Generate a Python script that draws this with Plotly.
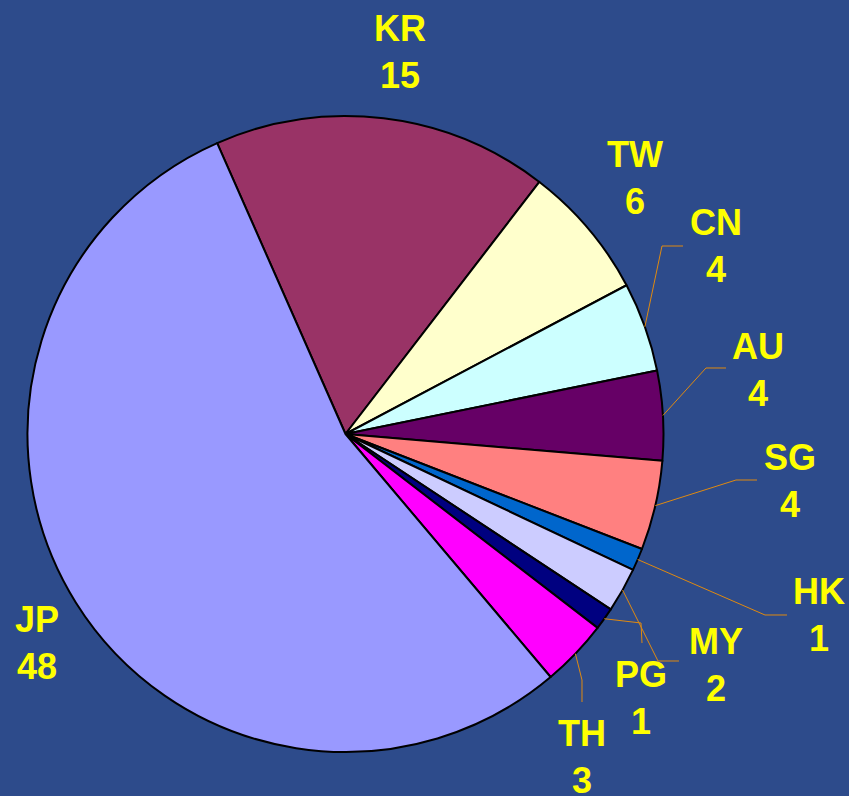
import math
import plotly.graph_objects as go

# ---- data ----
countries = ["KR", "TW", "CN", "AU", "SG", "HK", "MY", "PG", "TH", "JP"]
counts = [15, 6, 4, 4, 4, 1, 2, 1, 3, 48]
slice_colors = ["#993366", "#FFFFCC", "#CCFFFF", "#660066", "#FF8080",
                "#0066CC", "#CCCCFF", "#000080", "#FF00FF", "#9999FF"]

# ---- layout constants (pixels) ----
W, H = 849, 796
CX, CY, R = 345.5, 434.0, 318.0
ROTATION = -23.8
BG = "#2D4B8B"

# label centres (pixel) and leader elbows/ends (pixel) -- label layout only
label_pos = {
    "KR": (400, 52), "TW": (635, 178), "CN": (716, 246), "AU": (758, 370),
    "SG": (790, 481), "HK": (819, 615), "MY": (716, 665), "PG": (641, 698),
    "TH": (582, 757), "JP": (37, 643),
}
leaders = {
    "CN": [(662, 246), (683, 246)],
    "AU": [(706, 368), (726, 368)],
    "SG": [(736, 480), (757, 480)],
    "HK": [(765, 615), (787, 615)],
    "MY": [(658, 661), (679, 661)],
    "PG": [(641, 623), (642, 643)],
    "TH": [(582, 680), (582, 702)],
}

def px(x):
    return x / W

def py(y):
    return 1 - y / H

fig = go.Figure()
fig.add_trace(go.Pie(
    labels=countries, values=counts, sort=False, direction="clockwise",
    rotation=ROTATION, textinfo="none", hoverinfo="label+value",
    marker=dict(colors=slice_colors, line=dict(color="black", width=2)),
    domain=dict(x=[px(CX - R), px(CX + R)], y=[py(CY + R), py(CY - R)]),
    showlegend=False,
))

label_font = dict(family="Liberation Sans, Arial, sans-serif", size=36,
                  color="#FFFF00", weight="bold")
annotations = []
for c, v in zip(countries, counts):
    x, y = label_pos[c]
    annotations.append(dict(x=px(x), y=py(y), xref="paper", yref="paper",
                            text=f"{c}<br>{v}", showarrow=False,
                            xanchor="center", yanchor="middle", font=label_font))

# leader lines: start on the pie rim at each slice's mid-angle
total = sum(counts)
shapes = []
cum = 0
for c, v in zip(countries, counts):
    mid = ROTATION + (cum + v / 2) / total * 360
    cum += v
    if c not in leaders:
        continue
    a = math.radians(mid)
    sx, sy = CX + R * math.sin(a), CY - R * math.cos(a)
    pts = [(sx, sy)] + leaders[c]
    path = "M " + " L ".join(f"{px(x):.5f},{py(y):.5f}" for x, y in pts)
    shapes.append(dict(type="path", path=path, xref="paper", yref="paper",
                       line=dict(color="#E08A10", width=1)))

fig.update_layout(
    width=W, height=H, margin=dict(l=0, r=0, t=0, b=0),
    paper_bgcolor=BG, plot_bgcolor=BG,
    annotations=annotations, shapes=shapes,
)

fig.write_html(
    "out.html",
    config={"displayModeBar": False},
    post_script=f"document.body.style.margin='0';document.body.style.background='{BG}';",
)
